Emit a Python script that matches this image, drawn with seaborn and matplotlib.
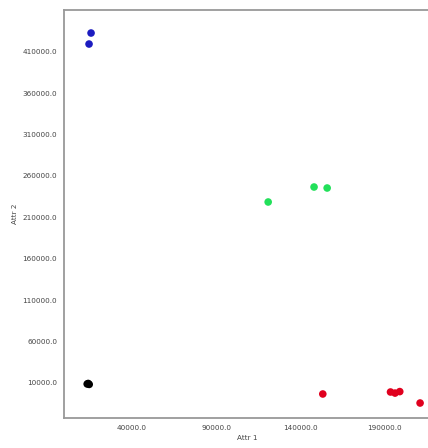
import pandas as pd
import numpy as np
import matplotlib.pyplot as plt
import seaborn as sns

# Pontos (Attr 1, Attr 2) por grupo
grupos = ['A', 'A', 'B', 'B', 'B', 'C', 'C', 'C', 'D', 'D', 'D', 'D', 'D']
attr1 = [15600, 14400, 13300, 13900, 14500, 121000, 148300, 156100,
         153500, 193800, 196500, 199300, 211400]
attr2 = [432700, 419400, 8800, 9400, 8300, 228600, 246700, 245500,
         -3300, -900, -2200, -400, -14200]
cores = {'A': '#1c1cc0', 'B': '#000000', 'C': '#22e05a', 'D': '#e0001e'}
xticks = [40000, 90000, 140000, 190000]
yticks = [10000, 60000, 110000, 160000, 210000, 260000, 310000, 360000, 410000]

df = pd.DataFrame({'Attr 1': attr1, 'Attr 2': attr2, 'grupo': grupos})

sns.set_style('white')
fig = plt.figure(figsize=(4.28, 4.48), dpi=100)
ax = fig.add_axes([64 / 428, 30 / 448, 366 / 428, 408 / 448])

sns.scatterplot(data=df, x='Attr 1', y='Attr 2', hue='grupo', palette=cores,
                s=30, linewidth=0, legend=False, ax=ax)

ax.set_xlim(-500, 217300)
ax.set_ylim(-32300, 460500)
ax.set_xticks(xticks)
ax.set_yticks(yticks)
ax.set_xticklabels([f'{v:.1f}' for v in xticks])
ax.set_yticklabels([f'{v:.1f}' for v in yticks])
ax.tick_params(labelsize=5.2, length=0, pad=5, colors='#444444')
ax.set_xlabel('Attr 1', fontsize=5.2, labelpad=3, color='#444444')
ax.set_ylabel('Attr 2', fontsize=5.2, labelpad=3, color='#444444')
for sp in ax.spines.values():
    sp.set_color('#999999')
    sp.set_linewidth(1.3)

plt.savefig('out.png', dpi=100)
